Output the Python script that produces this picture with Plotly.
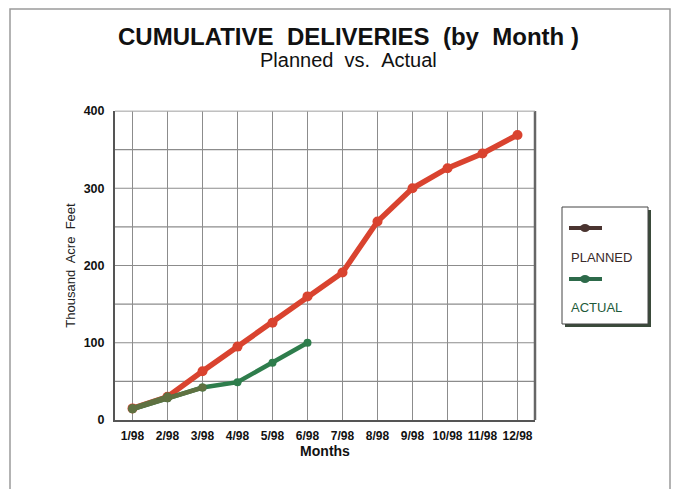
import plotly.graph_objects as go

months = ["1/98", "2/98", "3/98", "4/98", "5/98", "6/98", "7/98", "8/98", "9/98", "10/98", "11/98", "12/98"]
planned = [15, 30, 63, 95, 126, 160, 191, 257, 300, 326, 345, 369]
actual = [14, 28, 42, 49, 74, 100]
y_ticks = [0, 100, 200, 300, 400]

RED = "#d9432f"
GREEN = "#2e7d4c"
OLIVE = "#5f7141"
FONT = "Liberation Sans, Arial, sans-serif"

x_idx = list(range(1, len(months) + 1))

fig = go.Figure()
fig.add_trace(go.Scatter(
    x=x_idx, y=planned, mode="lines+markers", name="PLANNED",
    line=dict(color=RED, width=5.5), marker=dict(color=RED, size=10),
))
fig.add_trace(go.Scatter(
    x=x_idx[:len(actual)], y=actual, mode="lines+markers", name="ACTUAL",
    line=dict(color=GREEN, width=4.5), marker=dict(color=GREEN, size=8),
))
# early shared segments appear olive in the original
fig.add_trace(go.Scatter(
    x=x_idx[:3], y=actual[:3], mode="lines+markers",
    line=dict(color=OLIVE, width=4.5), marker=dict(color=OLIVE, size=8),
    showlegend=False,
))
fig.add_trace(go.Scatter(
    x=x_idx[:2], y=planned[:2], mode="lines+markers",
    line=dict(color=OLIVE, width=5), marker=dict(color=OLIVE, size=9),
    showlegend=False,
))

grid = "#8c8c8c"
fig.update_layout(
    width=683, height=489,
    margin=dict(l=115, r=148, t=111, b=69),
    paper_bgcolor="white", plot_bgcolor="white",
    showlegend=False,
    font=dict(family=FONT, color="#111"),
    xaxis=dict(
        range=[0.5, 12.5], tickmode="array", tickvals=x_idx, ticktext=months,
        showgrid=True, gridcolor=grid, gridwidth=1.2,
        showline=True, linecolor="#555", linewidth=2, mirror=False,
        ticks="outside", ticklen=4, tickcolor="rgba(0,0,0,0)",
        tickfont=dict(size=12, family=FONT, weight="bold"),
        zeroline=False,
        title=dict(text="<b>Months</b>", font=dict(size=14, family=FONT), standoff=0),
    ),
    yaxis=dict(
        range=[0, 400], tickmode="array", tickvals=y_ticks,
        ticktext=[str(v) for v in y_ticks],
        showgrid=False,
        showline=True, linecolor="#555", linewidth=2,
        ticks="outside", ticklen=6, tickcolor="rgba(0,0,0,0)",
        tickfont=dict(size=12.5, family=FONT, weight="bold"),
        zeroline=False,
        title=dict(text="Thousand  Acre  Feet", font=dict(size=13, family=FONT, color="#222"), standoff=5),
    ),
)

# horizontal gridlines every 50
for v in range(50, 401, 50):
    fig.add_shape(type="line", xref="paper", yref="y", x0=0, x1=1, y0=v, y1=v,
                  line=dict(color=grid, width=1.2), layer="below")
# right border of plot
fig.add_shape(type="line", xref="paper", yref="paper", x0=1, x1=1, y0=0, y1=1,
              line=dict(color="#666", width=2.5))
fig.add_shape(type="line", xref="paper", yref="paper", x0=0, x1=1, y0=1, y1=1,
              line=dict(color="#bbb", width=1))


def px(xp):
    return (xp - 115) / 420


def py(yp):
    return (420 - yp) / 309


# page frame
fig.add_shape(type="rect", xref="paper", yref="paper",
              x0=px(10), x1=px(670), y0=py(500), y1=py(9),
              line=dict(color="#9a9a9a", width=1.5))

# titles
fig.add_annotation(xref="paper", yref="paper", x=px(348), y=py(37),
                   text="<b>CUMULATIVE\u00a0\u00a0DELIVERIES\u00a0\u00a0(by\u00a0\u00a0Month\u00a0)</b>",
                   showarrow=False, font=dict(size=24, family=FONT, color="#111"),
                   xanchor="center", yanchor="middle")
fig.add_annotation(xref="paper", yref="paper", x=px(348), y=py(60),
                   text="Planned\u00a0\u00a0vs.\u00a0\u00a0Actual",
                   showarrow=False, font=dict(size=20, family=FONT, color="#111"),
                   xanchor="center", yanchor="middle")

# legend box (drawn manually)
fig.add_shape(type="rect", xref="paper", yref="paper",
              x0=px(565), x1=px(651), y0=py(327), y1=py(210),
              fillcolor="#3a4a3a", line=dict(width=0))
fig.add_shape(type="rect", xref="paper", yref="paper",
              x0=px(562), x1=px(648), y0=py(324), y1=py(207),
              fillcolor="white", line=dict(color="#444", width=1))
fig.add_shape(type="line", xref="paper", yref="paper",
              x0=px(569), x1=px(602), y0=py(228), y1=py(228),
              line=dict(color="#4a3430", width=4))
fig.add_shape(type="circle", xref="paper", yref="paper",
              x0=px(580), x1=px(590), y0=py(232), y1=py(224),
              fillcolor="#4a3430", line=dict(width=0))
fig.add_shape(type="line", xref="paper", yref="paper",
              x0=px(569), x1=px(602), y0=py(279), y1=py(279),
              line=dict(color="#2d6a4a", width=4))
fig.add_shape(type="circle", xref="paper", yref="paper",
              x0=px(580), x1=px(590), y0=py(283), y1=py(275),
              fillcolor="#2d6a4a", line=dict(width=0))
fig.add_annotation(xref="paper", yref="paper", x=px(569), y=py(257), text="PLANNED",
                   showarrow=False, xanchor="left", yanchor="middle",
                   font=dict(size=13, family=FONT, color="#3a2a2a"))
fig.add_annotation(xref="paper", yref="paper", x=px(569), y=py(307), text="ACTUAL",
                   showarrow=False, xanchor="left", yanchor="middle",
                   font=dict(size=13, family=FONT, color="#1e5a3a"))

fig.write_html("out.html", config={"displayModeBar": False},
               post_script="document.body.style.margin='0';document.body.style.overflow='hidden';")
